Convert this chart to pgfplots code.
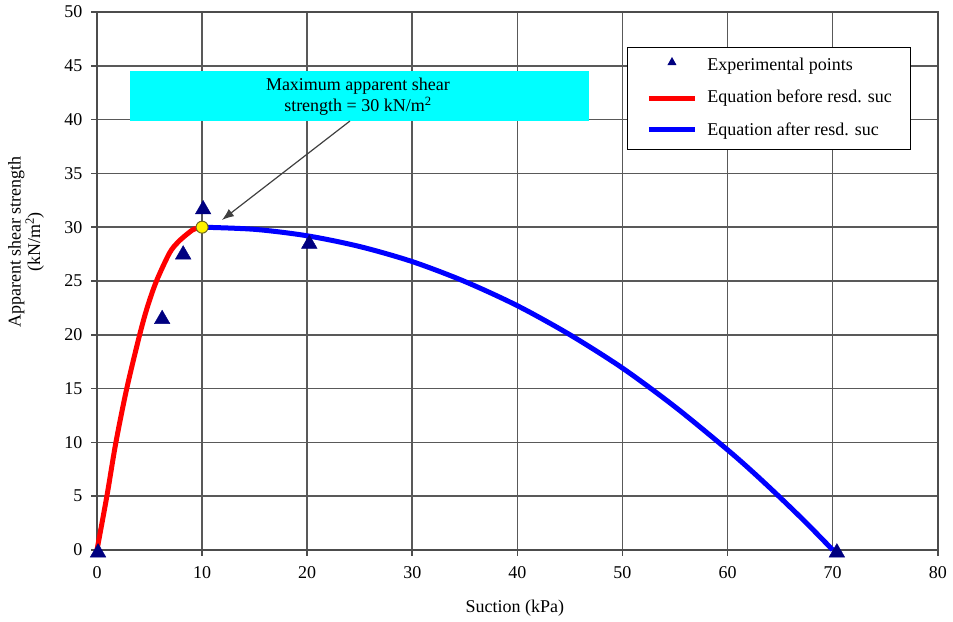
\documentclass[border=0pt]{standalone}
\usepackage{fontspec}
\setmainfont{Liberation Serif}
\usepackage{pgfplots}
\pgfplotsset{compat=1.18}
\usetikzlibrary{arrows.meta}
\definecolor{navyc}{HTML}{000080}
\definecolor{cyanbox}{HTML}{00FFFF}
\begin{document}
\begin{tikzpicture}
\begin{axis}[
  scale only axis, width=841pt, height=538pt,
  xmin=0, xmax=80, ymin=0, ymax=50,
  xtick={0,10,...,80}, ytick={0,5,...,50},
  grid=major, major grid style={black!65, line width=1.6pt},
  axis line style={black!70, line width=1.6pt},
  tick pos=left, tick align=outside, major tick length=6pt,
  tick style={black!70, line width=1.6pt},
  /pgf/number format/assume math mode=true,
  ticklabel style={font=\fontsize{18}{20}\selectfont},
  xticklabel style={yshift=-7pt},
  yticklabel style={xshift=-5pt},
  label style={font=\fontsize{18}{16}\selectfont},
  xlabel={Suction (kPa)},
  ylabel={Apparent shear strength\\(kN/m\textsuperscript{2})},
  ylabel style={align=center, at={(axis description cs:-0.0844,0.5725)}, anchor=center},
  xlabel style={at={(axis description cs:0.497,-0.1078)}, anchor=center},
  clip=false,
  legend cell align=left,
  legend style={at={(axis cs:50.43,46.75)}, anchor=north west, draw=black, line width=1pt, fill=white,
    font=\fontsize{18}{20}\selectfont, inner xsep=19pt, inner ysep=9.5pt, row sep=17pt, column sep=10pt,
    nodes={inner sep=0pt, text height=12pt, text depth=4pt}},
]
\addlegendimage{legend image code/.code={\path[draw=none, fill=none] (0pt,0pt) rectangle (46pt,0pt); \fill[navyc, draw=none] (23pt,9pt) -- (18.5pt,1pt) -- (27.5pt,1pt) -- cycle;}}
\addlegendentry{Experimental points}
\addlegendimage{legend image code/.code={\draw[red, line width=5pt] (0pt,0pt) -- (46pt,0pt);}}
\addlegendentry{Equation before resd. suc}
\addlegendimage{legend image code/.code={\draw[blue, line width=5pt] (0pt,2pt) -- (46pt,2pt);}}
\addlegendentry{Equation after resd. suc}

% annotation box and arrow
\fill[cyanbox] (axis cs:3.14,39.87) rectangle (axis cs:46.8,44.5);
\node[align=center, font=\fontsize{18}{21}\selectfont, inner sep=0pt] at (axis cs:24.83,42.1)
  {Maximum apparent shear\\strength = 30 kN/m\textsuperscript{2}};
\draw[-{Latex[length=12pt,width=9pt]}, black!75, line width=1.2pt] (axis cs:24.07,39.87) -- (axis cs:11.89,30.67);

% curves
\addplot[red, line width=5pt, smooth, forget plot] coordinates {
 (0,0) (0.94,5) (1.8,10) (2.83,15) (4.06,20) (4.8,22.6) (5.66,25) (6.9,27.6) (7.7,28.6) (8.5,29.3) (9.2,29.8) (10,30)};
\addplot[blue, line width=5pt, smooth, forget plot] coordinates {
 (10,30) (15,29.8) (20,29.2) (25,28.2) (30,26.8) (35,24.95) (40,22.7) (45,20.0) (50,16.9) (55,13.3) (60,9.3) (62.5,7.15) (65,4.87) (67.5,2.5) (70,0)};

% experimental points
\addplot[only marks, mark=triangle*, mark size=9pt, mark options={navyc, fill=navyc}, forget plot] coordinates {
 (0.1,-0.25) (6.2,21.45) (8.2,27.45) (10.1,31.65) (20.2,28.45) (70.4,-0.25)};

% maximum point
\addplot[only marks, mark=*, mark size=6pt, mark options={fill=yellow, draw=olive!70!black, line width=1pt}, forget plot] coordinates {(10,30)};

\coordinate (bl) at (axis cs:-9.23,-6.69);
\coordinate (tr) at (axis cs:81.45,51.12);
\end{axis}
\path (bl) rectangle (tr);
\end{tikzpicture}
\end{document}
